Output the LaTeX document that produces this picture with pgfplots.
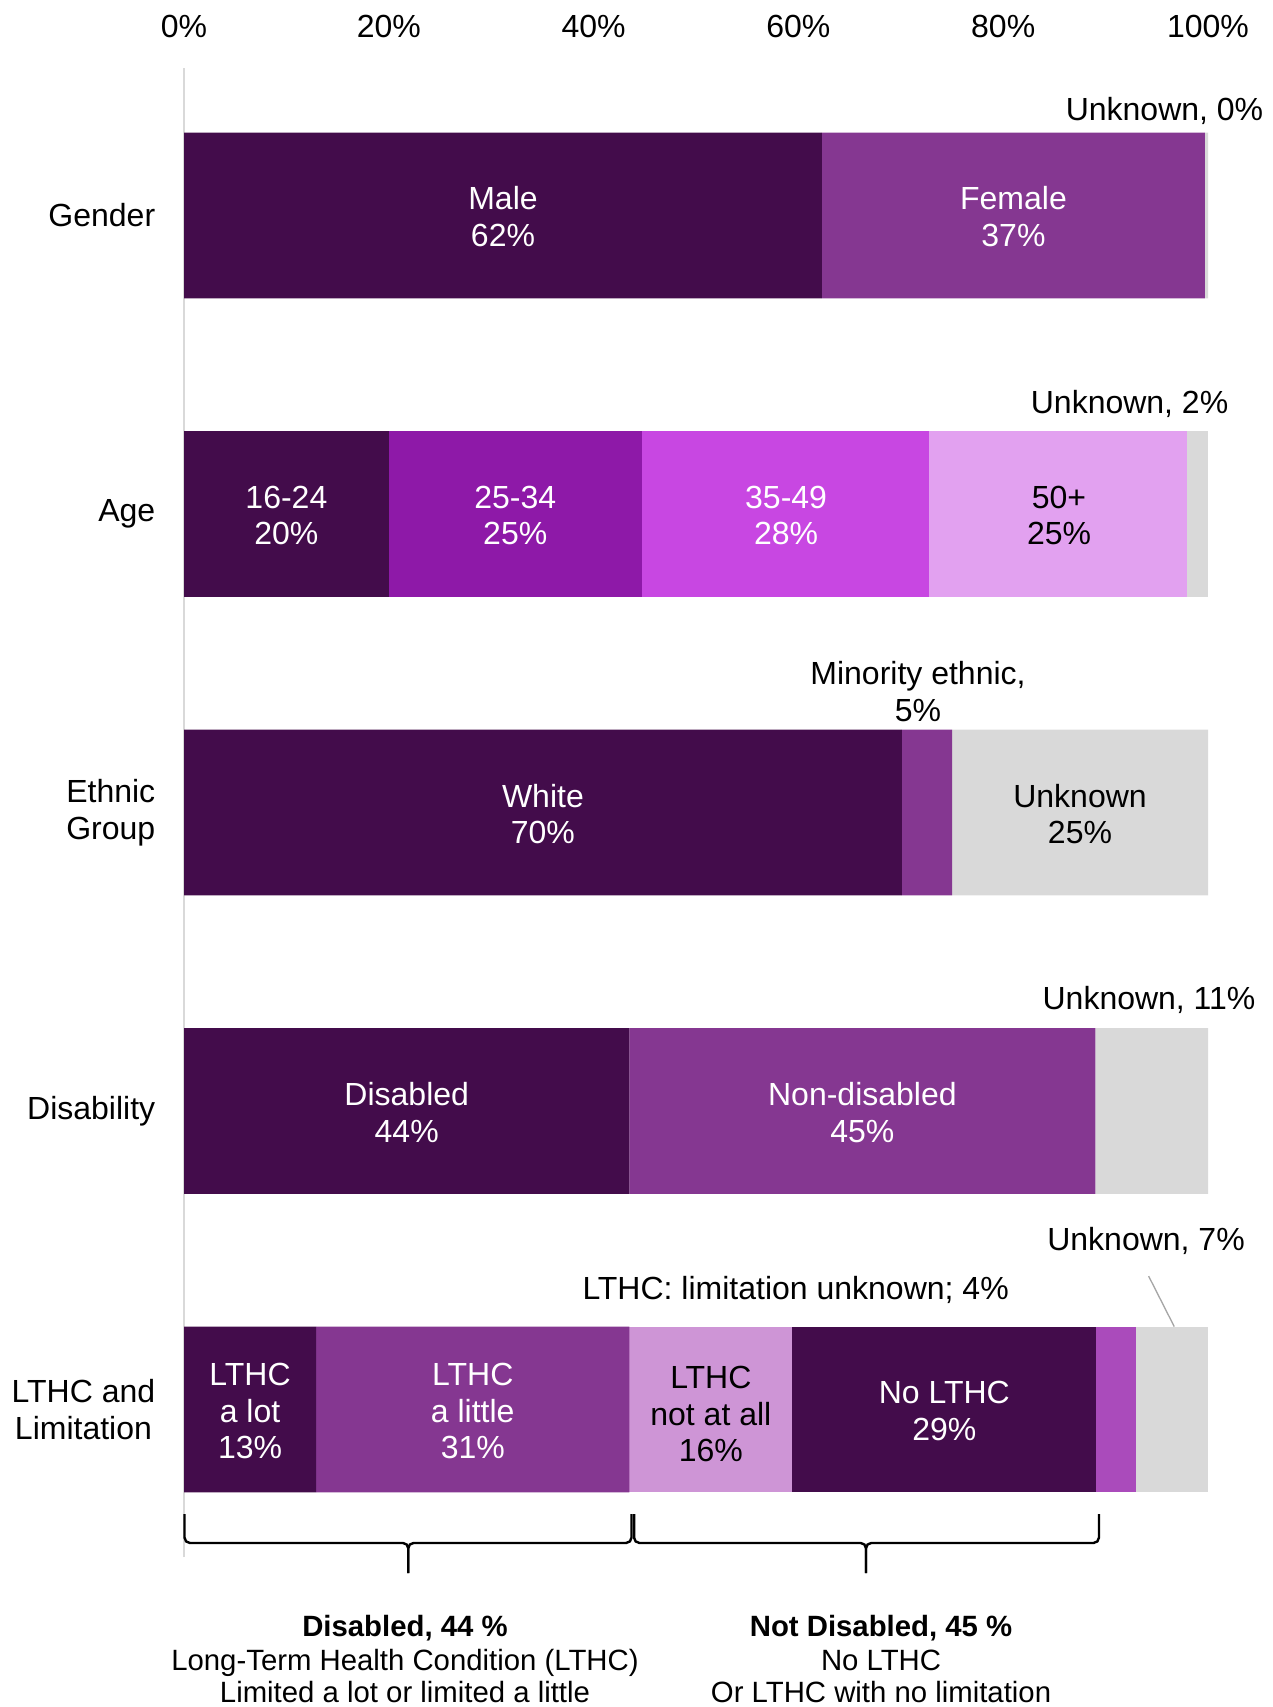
\documentclass[border=0pt]{standalone}
\usepackage{fontspec}
\setmainfont{Liberation Sans}
\usepackage{pgfplots}
\pgfplotsset{compat=1.18}
\definecolor{cDark}{HTML}{430C4B}
\definecolor{cPurp}{HTML}{853791}
\definecolor{cAgeB}{HTML}{8E19A8}
\definecolor{cAgeC}{HTML}{C847E2}
\definecolor{cAgeD}{HTML}{E2A1F0}
\definecolor{cNotAll}{HTML}{CE95D6}
\definecolor{cLimUnk}{HTML}{AA4BBB}
\definecolor{cGray}{HTML}{D9D9D9}
\definecolor{cLead}{HTML}{A6A6A6}
\newcommand{\F}{\fontsize{12}{13.8}\selectfont}
\newcommand{\Fs}{\fontsize{11}{12.6}\selectfont}
\begin{document}
\F
\begin{tikzpicture}
\begin{axis}[
  at={(69pt,56.25pt)}, anchor=south west,
  scale only axis, width=384pt, height=558.375pt,
  xbar stacked, bar width=62.2pt,
  xmin=0, xmax=100, ymin=-0.494, ymax=4.494,
  axis x line*=top, axis y line*=left,
  x axis line style={draw=none},
  y axis line style={draw=cGray, line width=0.75pt},
  xtick={0,20,40,60,80,100},
  xticklabels={0\%,20\%,40\%,60\%,80\%,100\%},
  ytick={0,1,2,3,4},
  yticklabels={{LTHC and\\Limitation},Disability,{Ethnic\\Group},Age,Gender},
  major tick length=0pt,
  tick label style={font=\F},
  yticklabel style={align=center, xshift=-6.6pt},
  xticklabel style={yshift=7pt},
  clip=false,
  every axis plot/.append style={draw=none},
]
% position 1
\addplot[fill=cDark] coordinates {(62.3,4) (20.0,3) (70.1,2) (43.5,1) (12.9,0)};
% position 2
\addplot[fill=cPurp] coordinates {(37.4,4) (0,3) (4.9,2) (45.5,1) (30.6,0)};
\addplot[fill=cAgeB] coordinates {(0,4) (24.7,3) (0,2) (0,1) (0,0)};
% position 3
\addplot[fill=cGray] coordinates {(0.3,4) (0,3) (25.0,2) (11.0,1) (0,0)};
\addplot[fill=cAgeC] coordinates {(0,4) (28.1,3) (0,2) (0,1) (0,0)};
\addplot[fill=cNotAll] coordinates {(0,4) (0,3) (0,2) (0,1) (15.9,0)};
% position 4
\addplot[fill=cAgeD] coordinates {(0,4) (25.1,3) (0,2) (0,1) (0,0)};
\addplot[fill=cDark] coordinates {(0,4) (0,3) (0,2) (0,1) (29.7,0)};
% position 5
\addplot[fill=cGray] coordinates {(0,4) (2.1,3) (0,2) (0,1) (0,0)};
\addplot[fill=cLimUnk] coordinates {(0,4) (0,3) (0,2) (0,1) (3.9,0)};
% position 6
\addplot[fill=cGray] coordinates {(0,4) (0,3) (0,2) (0,1) (7.0,0)};

% anchor points for in-bar labels
\coordinate (gM) at (axis cs:31.15,3.995);
\coordinate (gF) at (axis cs:81.0,3.995);
\coordinate (a1) at (axis cs:10.0,2.995);
\coordinate (a2) at (axis cs:32.35,2.995);
\coordinate (a3) at (axis cs:58.8,2.995);
\coordinate (a4) at (axis cs:85.45,2.995);
\coordinate (eW) at (axis cs:35.05,1.995);
\coordinate (eU) at (axis cs:87.5,1.995);
\coordinate (dD) at (axis cs:21.75,0.995);
\coordinate (dN) at (axis cs:66.25,0.995);
\coordinate (l1) at (axis cs:6.45,-0.005);
\coordinate (l2) at (axis cs:28.2,-0.005);
\coordinate (l3) at (axis cs:51.45,-0.015);
\coordinate (l4) at (axis cs:74.25,-0.005);

% outside annotations
\node[anchor=base, inner sep=0pt] at (axis cs:95.75,4.317) {Unknown, 0\%};
\node[anchor=base, inner sep=0pt] at (axis cs:92.34,3.337) {Unknown, 2\%};
\node[anchor=base, inner sep=0pt] at (axis cs:71.68,2.429) {Minority ethnic,};
\node[anchor=base, inner sep=0pt] at (axis cs:71.68,2.306) {5\%};
\node[anchor=base, inner sep=0pt] at (axis cs:94.24,1.341) {Unknown, 11\%};
\node[anchor=base, inner sep=0pt] at (axis cs:93.95,0.533) {Unknown, 7\%};
\node[anchor=base, inner sep=0pt] at (axis cs:59.73,0.369) {LTHC: limitation unknown; 4\%};
\draw[cLead, line width=0.5pt] (axis cs:94.2,0.447) -- (axis cs:96.7,0.278);

% braces
\draw[line width=0.9pt, rounded corners=2pt]
  (axis cs:0.05,-0.350) -- (axis cs:0.05,-0.447) -- (axis cs:21.9,-0.447) -- (axis cs:21.9,-0.548);
\draw[line width=0.9pt, rounded corners=2pt]
  (axis cs:21.9,-0.548) -- (axis cs:21.9,-0.447) -- (axis cs:43.7,-0.447) -- (axis cs:43.7,-0.350);
\draw[line width=0.9pt, rounded corners=2pt]
  (axis cs:43.95,-0.350) -- (axis cs:43.95,-0.447) -- (axis cs:66.6,-0.447) -- (axis cs:66.6,-0.548);
\draw[line width=0.9pt, rounded corners=2pt]
  (axis cs:66.6,-0.548) -- (axis cs:66.6,-0.447) -- (axis cs:89.35,-0.447) -- (axis cs:89.35,-0.350);

% bottom texts
\node[anchor=base, inner sep=0pt, font=\Fs\bfseries] at (axis cs:21.58,-0.760) {Disabled, 44 \%};
\node[anchor=base, inner sep=0pt, font=\Fs] at (axis cs:21.58,-0.874) {Long-Term Health Condition (LTHC)};
\node[anchor=base, inner sep=0pt, font=\Fs] at (axis cs:21.58,-0.981) {Limited a lot or limited a little};
\node[anchor=base, inner sep=0pt, font=\Fs\bfseries] at (axis cs:68.07,-0.760) {Not Disabled, 45 \%};
\node[anchor=base, inner sep=0pt, font=\Fs] at (axis cs:68.07,-0.874) {No LTHC};
\node[anchor=base, inner sep=0pt, font=\Fs] at (axis cs:68.07,-0.981) {Or LTHC with no limitation};
\end{axis}
% in-bar labels (drawn above the bars)
\node[white, align=center] at (gM) {Male\\62\%};
\node[white, align=center] at (gF) {Female\\37\%};
\node[white, align=center] at (a1) {16-24\\20\%};
\node[white, align=center] at (a2) {25-34\\25\%};
\node[white, align=center] at (a3) {35-49\\28\%};
\node[black, align=center] at (a4) {50+\\25\%};
\node[white, align=center] at (eW) {White\\70\%};
\node[black, align=center] at (eU) {Unknown\\25\%};
\node[white, align=center] at (dD) {Disabled\\44\%};
\node[white, align=center] at (dN) {Non-disabled\\45\%};
\node[white, align=center] at (l1) {LTHC\\a lot\\13\%};
\node[white, align=center] at (l2) {LTHC\\a little\\31\%};
\node[black, align=center] at (l3) {LTHC\\not at all\\16\%};
\node[white, align=center] at (l4) {No LTHC\\29\%};
\pgfresetboundingbox
\useasboundingbox (0,0) rectangle (477pt,640.125pt);
\end{tikzpicture}
\end{document}
